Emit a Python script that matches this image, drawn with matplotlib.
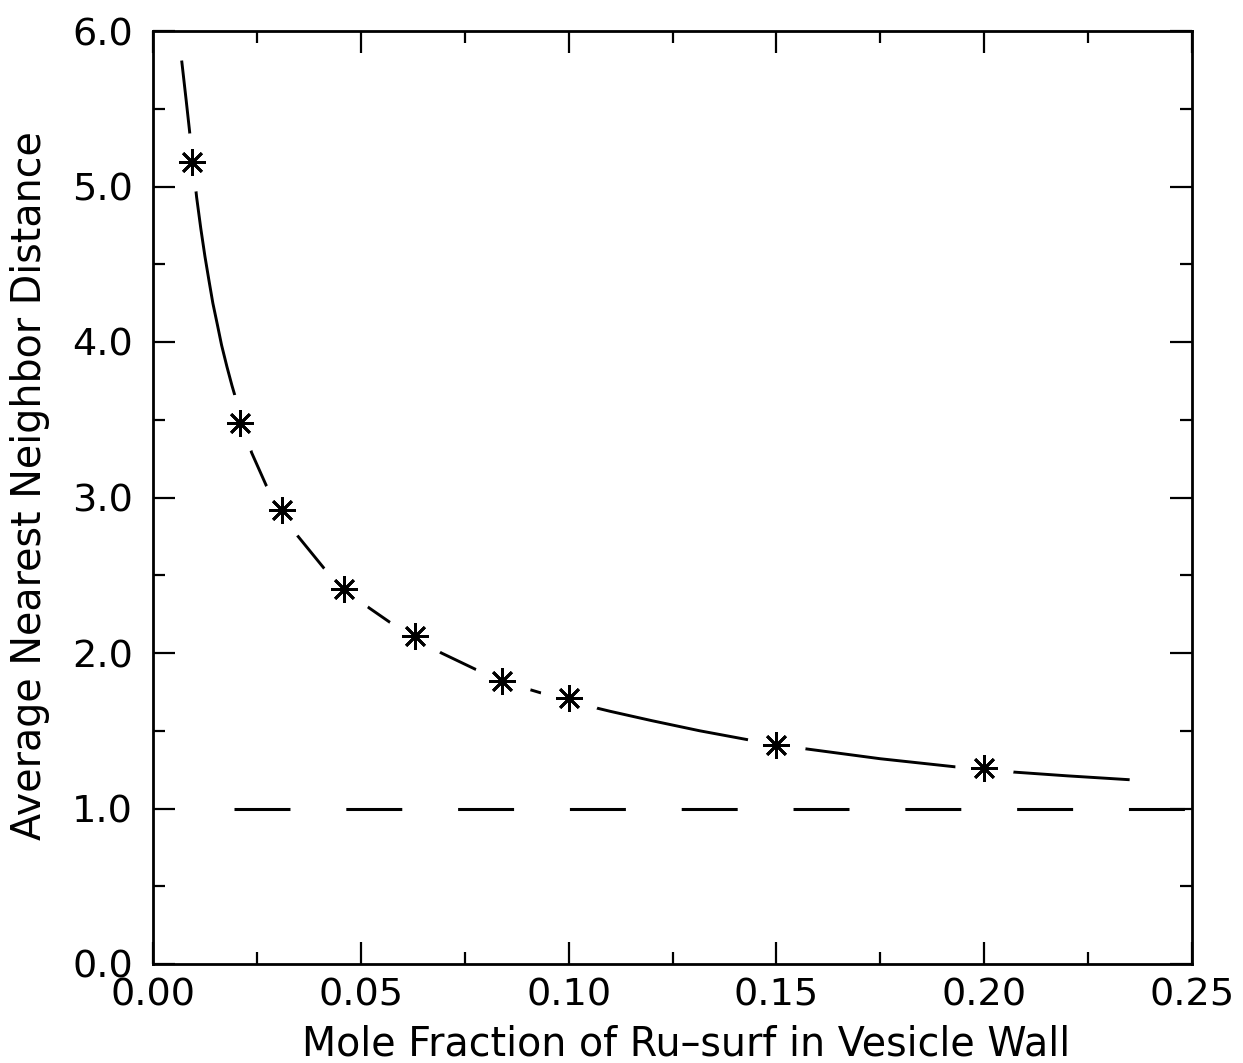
import matplotlib
matplotlib.use("Agg")
import matplotlib.pyplot as plt
from matplotlib.ticker import MultipleLocator, FixedLocator, FixedFormatter

plt.rcParams['font.family'] = ['DejaVu Sans']
plt.rcParams['lines.scale_dashes'] = False

# Measured data points (asterisks)
mole_fraction = [0.0095, 0.021, 0.031, 0.046, 0.063, 0.084, 0.100, 0.150, 0.200]
nn_distance = [5.16, 3.48, 2.92, 2.41, 2.11, 1.82, 1.71, 1.41, 1.26]

# Fitted curve
curve_x = [0.0069, 0.0080, 0.0087, 0.0105, 0.0115, 0.0125, 0.0135, 0.0144,
           0.0155, 0.0165, 0.0178, 0.0190, 0.0237, 0.0272, 0.0310, 0.0349,
           0.0413, 0.0460, 0.0520, 0.0574, 0.0630, 0.0694, 0.0780, 0.0840,
           0.0900, 0.1000, 0.1100, 0.1200, 0.1315, 0.1456, 0.1567, 0.1750,
           0.1930, 0.2067, 0.2200, 0.2350]
curve_y = [5.81, 5.55, 5.38, 4.93, 4.73, 4.55, 4.39, 4.25,
           4.11, 3.98, 3.84, 3.72, 3.29, 3.08, 2.90, 2.75,
           2.54, 2.42, 2.29, 2.19, 2.10, 2.00, 1.89, 1.83,
           1.77, 1.69, 1.625, 1.565, 1.50, 1.43, 1.385, 1.32,
           1.268, 1.235, 1.21, 1.185]

# Reference line at distance 1.0
ref_x = [0.0195, 0.25]
ref_y = [1.0, 1.0]

x_ticks = [0.00, 0.05, 0.10, 0.15, 0.20, 0.25]
x_ticklabels = ["0.00", "0.05", "0.10", "0.15", "0.20", "0.25"]
y_ticks = [0.0, 1.0, 2.0, 3.0, 4.0, 5.0, 6.0]
y_ticklabels = ["0.0", "1.0", "2.0", "3.0", "4.0", "5.0", "6.0"]

fig = plt.figure(figsize=(12.43, 10.63), dpi=100)
ax = fig.add_axes([153/1243, 1 - 964/1063, (1192-153)/1243, (964-31)/1063])

ax.plot(curve_x, curve_y, color='black', lw=2.1, solid_capstyle='butt',
        solid_joinstyle='round', zorder=2)
ax.plot(ref_x, ref_y, color='black', lw=2.2, dashes=(40.3, 40.2),
        dash_capstyle='butt', zorder=2)
# white halo around markers (curve is interrupted at each point)
ax.plot(mole_fraction, nn_distance, ls='none', marker='o', ms=42,
        mfc='white', mec='none', zorder=3)
ax.plot(mole_fraction, nn_distance, ls='none', marker=(8, 2, 0), ms=19,
        mew=2.0, mec='black', mfc='black', zorder=4)

ax.set_xlim(0, 0.25)
ax.set_ylim(0, 6.0)
ax.xaxis.set_major_locator(FixedLocator(x_ticks))
ax.xaxis.set_major_formatter(FixedFormatter(x_ticklabels))
ax.yaxis.set_major_locator(FixedLocator(y_ticks))
ax.yaxis.set_major_formatter(FixedFormatter(y_ticklabels))
ax.xaxis.set_minor_locator(MultipleLocator(0.025))
ax.yaxis.set_minor_locator(MultipleLocator(0.5))

for s in ax.spines.values():
    s.set_linewidth(2.0)

ax.tick_params(which='both', direction='in', top=True, right=True, width=1.6,
               labelsize=27.5)
ax.tick_params(which='major', length=15.8)
ax.tick_params(which='minor', length=8.6)
ax.tick_params(axis='y', which='major', pad=14.4)
ax.tick_params(axis='x', which='major', pad=9.5)

ax.text(-0.118, 0.513, "Average Nearest Neighbor Distance", rotation=90,
        ha='center', va='center', fontsize=28.5, transform=ax.transAxes)
ax.text(0.513, -0.0986, "Mole Fraction of Ru–surf in Vesicle Wall",
        ha='center', va='baseline', fontsize=28.5, transform=ax.transAxes)

fig.savefig("out.png", dpi=100, facecolor='white')
